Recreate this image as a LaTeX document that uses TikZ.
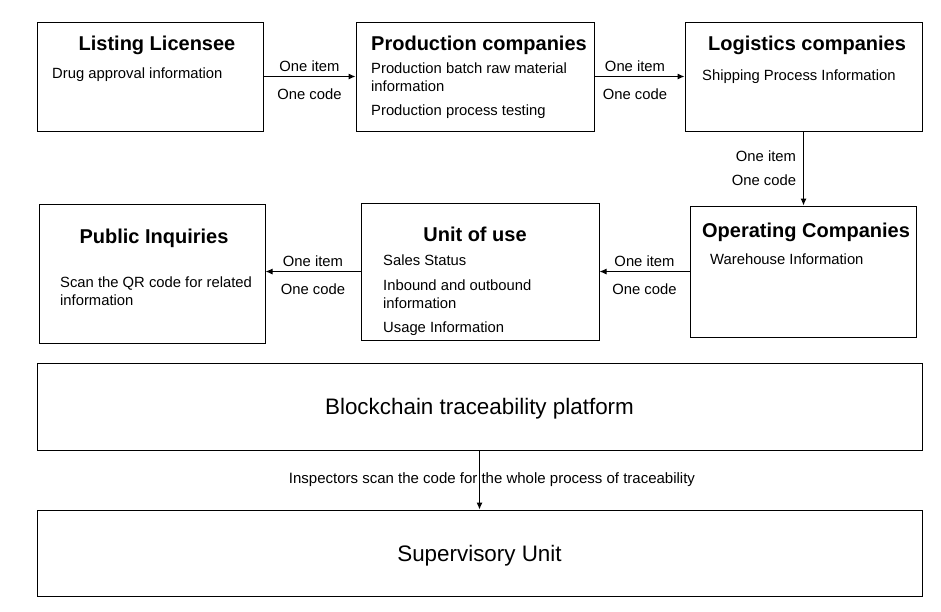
\documentclass[tikz,border=0pt]{standalone}
\usepackage{fontspec}
\setmainfont{Liberation Sans}
\usetikzlibrary{arrows.meta}
\begin{document}
\begin{tikzpicture}[x=1pt, y=-1pt,
    box/.style={draw, line width=1pt, inner sep=0pt},
    arr/.style={line width=1pt, -{Latex[length=7pt, width=6pt]}},
    title/.style={anchor=base, font=\fontsize{20}{24}\selectfont\bfseries, inner sep=0pt},
    info/.style={anchor=base west, font=\fontsize{14.8}{18}\selectfont, inner sep=0pt},
    lbl/.style={anchor=base, font=\fontsize{14.8}{18}\selectfont, inner sep=0pt},
    big/.style={anchor=base, font=\fontsize{22.4}{26}\selectfont, inner sep=0pt}]
    \useasboundingbox (0,0) rectangle (941,611);
    \node [box, minimum width=226, minimum height=109] (listing) at (150,76.5) {};
    \node [box, minimum width=238, minimum height=109] (prod) at (475,76.5) {};
    \node [box, minimum width=237, minimum height=109] (logi) at (803.5,76.5) {};
    \node [box, minimum width=226, minimum height=131] (oper) at (803,271.5) {};
    \node [box, minimum width=238, minimum height=137] (unit) at (480,271.5) {};
    \node [box, minimum width=226, minimum height=139] (public) at (152,273.5) {};
    \node [box, minimum width=885, minimum height=87] (chain) at (479.5,406.5) {};
    \node [box, minimum width=885, minimum height=86] (super) at (479.5,553) {};
    \node [title] (listing-t) at (157,50) {Listing Licensee};
    \node [info] (listing-a) at (52,78) {Drug approval information};
    \node [title, anchor=base west] (prod-t) at (371,50) {Production companies};
    \node [info] (prod-a) at (371,73) {Production batch raw material};
    \node [info] (prod-b) at (371,91) {information};
    \node [info] (prod-c) at (371,115) {Production process testing};
    \node [title] (logi-t) at (807,50) {Logistics companies};
    \node [info] (logi-a) at (702,80) {Shipping Process Information};
    \node [title] (oper-t) at (806,237) {Operating Companies};
    \node [info] (oper-a) at (710,264) {Warehouse Information};
    \node [title] (unit-t) at (475,241) {Unit of use};
    \node [info] (unit-a) at (383,265) {Sales Status};
    \node [info] (unit-b) at (383,290) {Inbound and outbound};
    \node [info] (unit-c) at (383,308) {information};
    \node [info] (unit-d) at (383,332) {Usage Information};
    \node [title] (public-t) at (154,243) {Public Inquiries};
    \node [info] (public-a) at (60,287) {Scan the QR code for related};
    \node [info] (public-b) at (60,305) {information};
    \node [big] (chain-t) at (479.5,414) {Blockchain traceability platform};
    \node [big] (super-t) at (479.5,561) {Supervisory Unit};
    \draw [arr] (listing) -- (prod)
        node [lbl, pos=.5, yshift=5pt] {One item}
        node [lbl, pos=.5, yshift=-23pt] {One code};
    \draw [arr] (prod) -- (logi)
        node [lbl, pos=.45, yshift=5pt] {One item}
        node [lbl, pos=.45, yshift=-23pt] {One code};
    \draw [arr] (logi.south) -- (logi.south |- oper.north)
        node [lbl, anchor=base east, pos=.5, xshift=-7pt, yshift=7pt] {One item}
        node [lbl, anchor=base east, pos=.5, xshift=-7pt, yshift=-17pt] {One code};
    \draw [arr] (oper) -- (unit)
        node [lbl, pos=.5, yshift=5pt] {One item}
        node [lbl, pos=.5, yshift=-23pt] {One code};
    \draw [arr] (unit.west) -- (unit.west -| public.east)
        node [lbl, pos=.5, yshift=5pt] {One item}
        node [lbl, pos=.5, yshift=-23pt] {One code};
    \draw [arr] (chain) -- (super);
    \node [lbl, font=\fontsize{15}{18}\selectfont] (inspect) at (492,483) {Inspectors scan the code for the whole process of traceability};
\end{tikzpicture}
\end{document}
